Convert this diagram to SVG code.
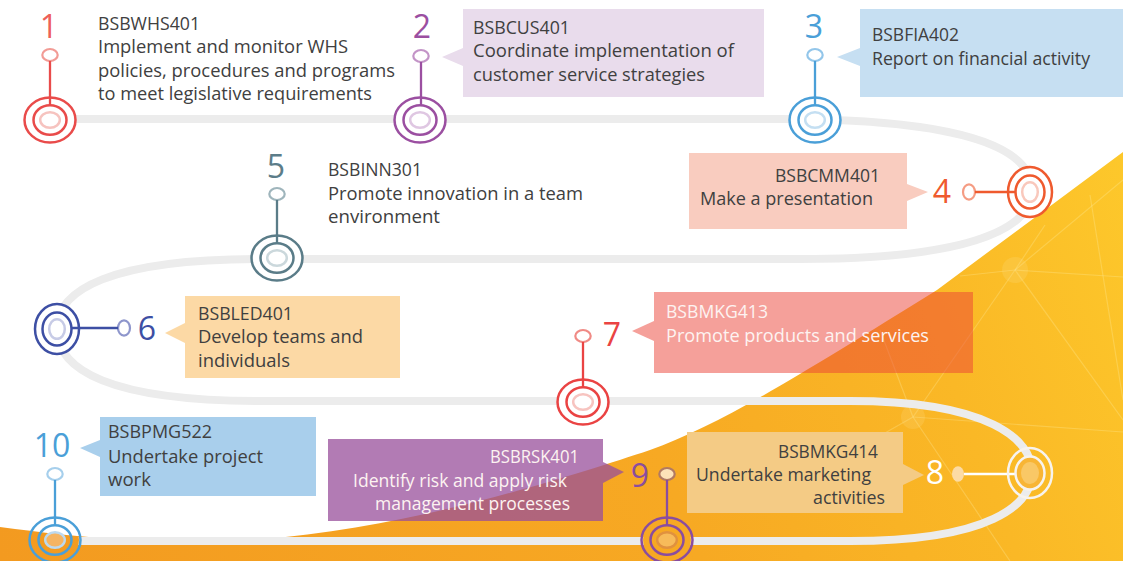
<svg xmlns="http://www.w3.org/2000/svg" width="1123" height="561" viewBox="0 0 1123 561">
<defs>
<linearGradient id="og" gradientUnits="userSpaceOnUse" x1="0" y1="561" x2="1123" y2="150">
<stop offset="0" stop-color="#f39a20"/><stop offset="0.55" stop-color="#f7a923"/><stop offset="0.8" stop-color="#fab826"/><stop offset="1" stop-color="#fdc82b"/>
</linearGradient>
<clipPath id="oc"><path d="M0,527 C40,532 80,538 130,539 L260,539 C400,530 560,480 650,450 C720,425 800,375 937,290 L1123,152 L1123,561 L0,561 Z"/></clipPath>
<mask id="pm" maskUnits="userSpaceOnUse" x="0" y="0" width="1123" height="561">
<rect width="1123" height="561" fill="#fff"/>
<g fill="#000">
<ellipse cx="50" cy="120" rx="24" ry="21"/>
<ellipse cx="420" cy="120" rx="24" ry="21"/>
<ellipse cx="815" cy="120" rx="24" ry="21"/>
<ellipse cx="1030" cy="192" rx="20.5" ry="23.5"/>
<ellipse cx="277" cy="258" rx="24" ry="21"/>
<ellipse cx="57" cy="329" rx="20.5" ry="23.5"/>
<ellipse cx="583" cy="402" rx="24" ry="21"/>
<ellipse cx="667" cy="540" rx="24" ry="21"/>
<ellipse cx="55" cy="540" rx="24" ry="21"/>
</g>
</mask>
<style>
.t{font-family:"Open Sans","Liberation Sans",sans-serif;font-size:18px;fill:#404040}
.w{fill:#fdf3f1}
.n{font-family:"Open Sans","Liberation Sans",sans-serif;font-size:32px;text-anchor:middle}
.r{fill:none;stroke-width:2.5}
.s{stroke-width:2.2}
.st{stroke-width:2.3}
.road{fill:none;stroke:#ececec;stroke-width:8}
.net line{stroke:#fff1a8;stroke-opacity:.28;stroke-width:1.2}
.net circle{fill:#fde08a;fill-opacity:.2}
</style>
</defs>

<rect width="1123" height="561" fill="#fff"/>
<path d="M0,527 C40,532 80,538 130,539 L260,539 C400,530 560,480 650,450 C720,425 800,375 937,290 L1123,152 L1123,561 L0,561 Z" fill="url(#og)"/>
<g class="net" clip-path="url(#oc)">
<line x1="1015" y1="270" x2="1123" y2="277"/>
<line x1="1015" y1="270" x2="1123" y2="180"/>
<line x1="1015" y1="270" x2="913" y2="417"/>
<line x1="1015" y1="270" x2="960" y2="276"/>
<line x1="1015" y1="270" x2="1123" y2="420"/>
<line x1="1015" y1="270" x2="1045" y2="225"/>
<line x1="913" y1="417" x2="1123" y2="432"/>
<line x1="1090" y1="195" x2="1123" y2="400"/>
<line x1="913" y1="417" x2="880" y2="330"/>
<line x1="913" y1="417" x2="1010" y2="561"/>
<line x1="913" y1="417" x2="820" y2="470"/>
<circle cx="1015" cy="270" r="13"/>
<circle cx="913" cy="417" r="12"/>
</g>

<g id="connectors">
<path class="road" mask="url(#pm)" d="M50,119 L780,119 C970,119 1032,150 1032,190 C1032,232 960,259 800,259 L260,259 C110,259 57,290 57,329 C57,370 110,401 260,401 L850,401 C990,401 1032,440 1032,472 C1032,505 990,541 850,541 L55,541"/>
</g>

<g id="node-1">
<text class="n" x="49" y="38" fill="#ee5f5a">1</text>
<ellipse cx="50" cy="55" rx="7.7" ry="6" fill="#fff" stroke="#f29b95" class="s"/>
<line x1="50" y1="61" x2="50" y2="105" stroke="#e94b4a" class="st"/>
<ellipse cx="50" cy="120" rx="25.5" ry="22.5" class="r" stroke="#e94b4a"/>
<ellipse cx="50" cy="120" rx="16.5" ry="14.8" class="r" stroke="#e94b4a"/>
<ellipse cx="50" cy="120" rx="9.8" ry="7.8" class="r" stroke="#f6c3bf"/>
<text class="t" x="98" y="30" textLength="102" lengthAdjust="spacingAndGlyphs">BSBWHS401</text>
<text class="t" x="98" y="53" textLength="250" lengthAdjust="spacingAndGlyphs">Implement and monitor WHS</text>
<text class="t" x="98" y="77" textLength="297" lengthAdjust="spacingAndGlyphs">policies, procedures and programs</text>
<text class="t" x="98" y="100" textLength="274" lengthAdjust="spacingAndGlyphs">to meet legislative requirements</text>
</g>

<g id="node-2">
<rect x="463" y="9" width="301" height="88" fill="#e9dcec"/>
<polygon points="463,48 442,57 463,66" fill="#e9dcec"/>
<text class="n" x="422" y="38" fill="#9b4fa1">2</text>
<ellipse cx="421" cy="56" rx="7.7" ry="6" fill="#fff" stroke="#c394c7" class="s"/>
<line x1="421" y1="62" x2="421" y2="105" stroke="#9b4fa1" class="st"/>
<ellipse cx="420" cy="120" rx="25.5" ry="22.5" class="r" stroke="#9b4fa1"/>
<ellipse cx="420" cy="120" rx="16.5" ry="14.8" class="r" stroke="#9b4fa1"/>
<ellipse cx="420" cy="120" rx="9.8" ry="7.8" class="r" stroke="#dfc7e2"/>
<text class="t" x="473" y="34" textLength="97" lengthAdjust="spacingAndGlyphs">BSBCUS401</text>
<text class="t" x="473" y="57" textLength="261" lengthAdjust="spacingAndGlyphs">Coordinate implementation of</text>
<text class="t" x="473" y="81" textLength="232" lengthAdjust="spacingAndGlyphs">customer service strategies</text>
</g>

<g id="node-3">
<rect x="860" y="9" width="263" height="88" fill="#c6dff2"/>
<polygon points="860,48 837,57 860,66" fill="#c6dff2"/>
<text class="n" x="814" y="38" fill="#4a9fd8">3</text>
<ellipse cx="815" cy="55" rx="7.7" ry="6" fill="#fff" stroke="#93c6ea" class="s"/>
<line x1="815" y1="61" x2="815" y2="105" stroke="#4a9fd8" class="st"/>
<ellipse cx="815" cy="120" rx="25.5" ry="22.5" class="r" stroke="#4a9fd8"/>
<ellipse cx="815" cy="120" rx="16.5" ry="14.8" class="r" stroke="#4a9fd8"/>
<ellipse cx="815" cy="120" rx="9.8" ry="7.8" class="r" stroke="#c4dff2"/>
<text class="t" x="872" y="41" textLength="87" lengthAdjust="spacingAndGlyphs">BSBFIA402</text>
<text class="t" x="872" y="65" textLength="218" lengthAdjust="spacingAndGlyphs">Report on financial activity</text>
</g>

<g id="node-4">
<rect x="689" y="153" width="218" height="76" fill="#f9ccbf"/>
<polygon points="907,184 928,192 907,201" fill="#f9ccbf"/>
<text class="n" x="942" y="203" fill="#ef5a2e">4</text>
<ellipse cx="969" cy="192" rx="6" ry="7.7" fill="#fff" stroke="#f59c83" class="s"/>
<line x1="975" y1="192" x2="1015" y2="192" stroke="#ef5a2e" class="st"/>
<ellipse cx="1030" cy="192" rx="22" ry="25" class="r" stroke="#ef5a2e"/>
<ellipse cx="1030" cy="192" rx="14.5" ry="16.5" class="r" stroke="#ef5a2e"/>
<ellipse cx="1030" cy="192" rx="7.8" ry="9.8" class="r" stroke="#f9c8bc"/>
<text class="t" x="775" y="182" textLength="105" lengthAdjust="spacingAndGlyphs">BSBCMM401</text>
<text class="t" x="700" y="205" textLength="173" lengthAdjust="spacingAndGlyphs">Make a presentation</text>
</g>

<g id="node-5">
<text class="n" x="276" y="178" fill="#5c7d89">5</text>
<ellipse cx="277" cy="194" rx="7.7" ry="6" fill="#fff" stroke="#9fb5bc" class="s"/>
<line x1="277" y1="200" x2="277" y2="243" stroke="#5a7c88" class="st"/>
<ellipse cx="277" cy="258" rx="25.5" ry="22.5" class="r" stroke="#5a7c88"/>
<ellipse cx="277" cy="258" rx="16.5" ry="14.8" class="r" stroke="#5a7c88"/>
<ellipse cx="277" cy="258" rx="9.8" ry="7.8" class="r" stroke="#cbd8dc"/>
<text class="t" x="328" y="176" textLength="94" lengthAdjust="spacingAndGlyphs">BSBINN301</text>
<text class="t" x="328" y="200" textLength="255" lengthAdjust="spacingAndGlyphs">Promote innovation in a team</text>
<text class="t" x="328" y="223" textLength="112" lengthAdjust="spacingAndGlyphs">environment</text>
</g>

<g id="node-6">
<rect x="185" y="296" width="215" height="82" fill="#fcd9a5"/>
<polygon points="185,323 165,333 185,343" fill="#fcd9a5"/>
<text class="n" x="147" y="340" fill="#3d4fa4">6</text>
<ellipse cx="124" cy="328" rx="6" ry="7.7" fill="#fff" stroke="#8e96cc" class="s"/>
<line x1="72" y1="328" x2="118" y2="328" stroke="#3d4fa4" class="st"/>
<ellipse cx="57" cy="329" rx="22" ry="25" class="r" stroke="#3d4fa4"/>
<ellipse cx="57" cy="329" rx="14.5" ry="16.5" class="r" stroke="#3d4fa4"/>
<ellipse cx="57" cy="329" rx="7.8" ry="9.8" class="r" stroke="#c7cbe6"/>
<text class="t" x="198" y="320" textLength="95" lengthAdjust="spacingAndGlyphs">BSBLED401</text>
<text class="t" x="198" y="343" textLength="165" lengthAdjust="spacingAndGlyphs">Develop teams and</text>
<text class="t" x="198" y="367" textLength="92" lengthAdjust="spacingAndGlyphs">individuals</text>
</g>

<g id="node-7">
<rect x="654" y="292" width="319" height="81" fill="#eb4135" fill-opacity="0.5"/>
<polygon points="654,321 632,331 654,341" fill="#eb4135" fill-opacity="0.5"/>
<text class="n" x="612" y="346" fill="#ea4343">7</text>
<ellipse cx="583" cy="336" rx="7.7" ry="6" fill="#fff" stroke="#f08a85" class="s"/>
<line x1="583" y1="342" x2="583" y2="387" stroke="#ea4343" class="st"/>
<ellipse cx="583" cy="402" rx="25.5" ry="22.5" class="r" stroke="#ea4343"/>
<ellipse cx="583" cy="402" rx="16.5" ry="14.8" class="r" stroke="#ea4343"/>
<ellipse cx="583" cy="402" rx="9.8" ry="7.8" class="r" stroke="#f7c4c0"/>
<text class="t w" x="666" y="318" textLength="102" lengthAdjust="spacingAndGlyphs">BSBMKG413</text>
<text class="t w" x="666" y="342" textLength="263" lengthAdjust="spacingAndGlyphs">Promote products and services</text>
</g>

<g id="node-8">
<rect x="687" y="432" width="216" height="81" fill="#f4cb85"/>
<polygon points="903,464 924,475 903,485" fill="#f4cb85"/>
<text class="n" x="935" y="484" fill="#ffffff">8</text>
<ellipse cx="958" cy="474" rx="6" ry="7.7" fill="#fcdba5"/>
<line x1="964" y1="474" x2="1015" y2="474" stroke="#ffffff" class="st"/>
<ellipse cx="1030" cy="473" rx="22" ry="25" class="r" stroke="#f7f3ee"/>
<ellipse cx="1030" cy="473" rx="14.5" ry="16.5" fill="#f8b535" stroke="#f7f3ee" stroke-width="2.5"/>
<ellipse cx="1030" cy="473" rx="9" ry="11" fill="#f9c866"/>
<text class="t" x="778" y="458" fill="#4a3e30" textLength="100" lengthAdjust="spacingAndGlyphs">BSBMKG414</text>
<text class="t" x="696" y="481" fill="#4a3e30" textLength="175" lengthAdjust="spacingAndGlyphs">Undertake marketing</text>
<text class="t" x="813" y="504" fill="#4a3e30" textLength="72" lengthAdjust="spacingAndGlyphs">activities</text>
</g>

<g id="node-9">
<rect x="328" y="439" width="275" height="82" fill="#984f9b" fill-opacity="0.75"/>
<polygon points="603,462 624,472 603,483" fill="#984f9b" fill-opacity="0.75"/>
<text class="n" x="640" y="487" fill="#8a4d9f">9</text>
<ellipse cx="667" cy="474" rx="7.7" ry="6" fill="#fde3b8" stroke="#b27a62" class="s"/>
<line x1="667" y1="480" x2="667" y2="525" stroke="#8a4d9f" class="st"/>
<ellipse cx="667" cy="540" rx="25.5" ry="22.5" class="r" stroke="#8a4d9f"/>
<ellipse cx="667" cy="540" rx="16.5" ry="14.8" class="r" stroke="#8a4d9f"/>
<ellipse cx="667" cy="540" rx="9.8" ry="7.8" fill="#f7bb5a" stroke="#e0913f" stroke-width="2.4"/>
<text class="t w" x="490" y="463" textLength="89" lengthAdjust="spacingAndGlyphs">BSBRSK401</text>
<text class="t w" x="353" y="487" textLength="214" lengthAdjust="spacingAndGlyphs">Identify risk and apply risk</text>
<text class="t w" x="375" y="510" textLength="195" lengthAdjust="spacingAndGlyphs">management processes</text>
</g>

<g id="node-10">
<rect x="100" y="417" width="216" height="79" fill="#a9cfec"/>
<polygon points="100,440 80,448 100,457" fill="#a9cfec"/>
<text class="n" x="52" y="457" fill="#4a9fd8">10</text>
<ellipse cx="55" cy="474" rx="7.7" ry="6" fill="#fff" stroke="#a6cfec" class="s"/>
<line x1="55" y1="480" x2="55" y2="525" stroke="#4a9fd8" class="st"/>
<ellipse cx="55" cy="540" rx="25.5" ry="22.5" class="r" stroke="#4a9fd8"/>
<ellipse cx="55" cy="540" rx="16.5" ry="14.8" class="r" stroke="#4a9fd8"/>
<ellipse cx="55" cy="540" rx="9.8" ry="7.8" fill="#f5b462" stroke="#bcd9ef" stroke-width="2.4"/>
<text class="t" x="108" y="438" textLength="104" lengthAdjust="spacingAndGlyphs">BSBPMG522</text>
<text class="t" x="108" y="463" textLength="155" lengthAdjust="spacingAndGlyphs">Undertake project</text>
<text class="t" x="108" y="486" textLength="43" lengthAdjust="spacingAndGlyphs">work</text>
</g>
</svg>
